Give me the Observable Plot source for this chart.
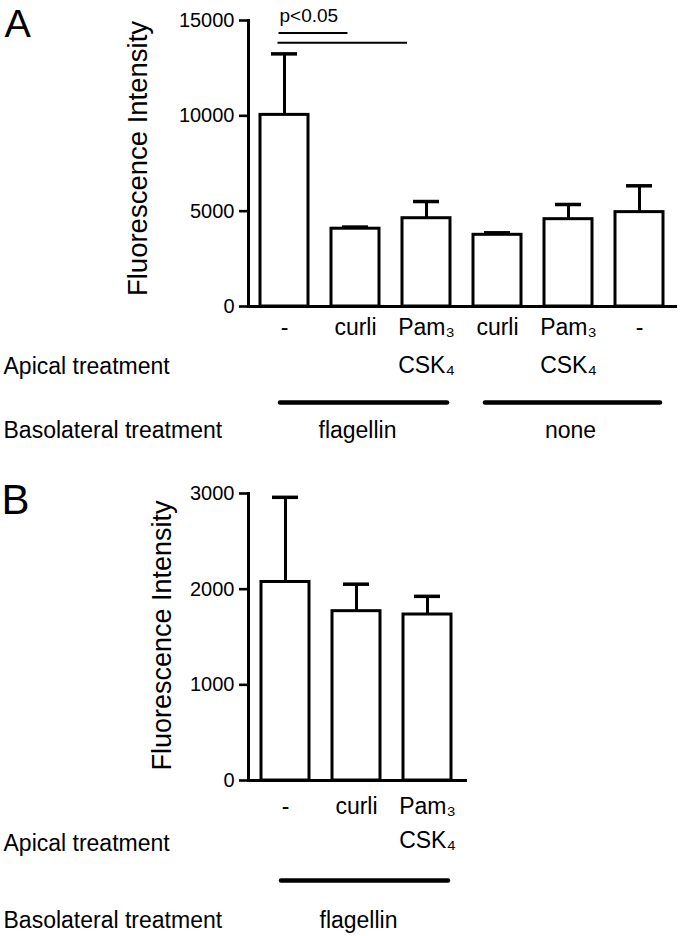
<!DOCTYPE html>
<html>
<head>
<meta charset="utf-8">
<script src="https://cdn.jsdelivr.net/npm/d3@7"></script>
<script src="https://cdn.jsdelivr.net/npm/@observablehq/plot@0.6"></script>
<style>
  body { margin: 0; background: #fff; }
  #chart { width: 680px; }
  #chart svg { display: block; }
</style>
</head>
<body>
<div id="chart"></div>
<script>
// ---------- Panel A data ----------
const apicalA = ["-", "curli", "Pam₃\nCSK₄", "curli", "Pam₃\nCSK₄", "-"];
const basolateralA = ["flagellin", "flagellin", "flagellin", "none", "none", "none"];
const meanA = [10050, 4080, 4630, 3760, 4580, 4950];
const errA = [3200, 85, 875, 105, 770, 1380];
const yTicksA = [0, 5000, 10000, 15000];
const yMaxA = 15000;
// significance brackets (bar index from/to, level in y units)
const sigFromA = [0, 0];
const sigToA = [1, 2];
const sigLevelA = [14350, 13830];
const sigLabelA = ["p<0.05", ""];

// ---------- Panel B data ----------
const apicalB = ["-", "curli", "Pam₃\nCSK₄"];
const basolateralB = ["flagellin", "flagellin", "flagellin"];
const meanB = [2075, 1770, 1735];
const errB = [885, 282, 190];
const yTicksB = [0, 1000, 2000, 3000];
const yMaxB = 3000;

const yTitle = "Fluorescence Intensity";
const apicalTitle = "Apical treatment";
const basoTitle = "Basolateral treatment";

const FONT = "'Liberation Sans', Arial, Helvetica, sans-serif";

function buildRows(apical, baso, mean, err) {
  return apical.map((a, i) => ({key: i, apical: a, baso: baso[i], mean: mean[i], err: err[i]}));
}
function buildGroups(rows) {
  const names = [...new Set(rows.map(d => d.baso))];
  return names.map(name => {
    const ks = rows.filter(d => d.baso === name).map(d => d.key);
    return {name, first: ks[0], mid: ks[Math.floor(ks.length / 2)], last: ks[ks.length - 1]};
  });
}

function panel(cfg) {
  const rows = buildRows(cfg.apical, cfg.baso, cfg.mean, cfg.err);
  const groups = buildGroups(rows);
  const marks = [
    Plot.barY(rows, {x: "key", y: "mean", fill: "white", stroke: "black", strokeWidth: 3}),
    Plot.ruleX(rows, {x: "key", y1: "mean", y2: d => d.mean + d.err, stroke: "black", strokeWidth: 3}),
    Plot.tickY(rows, {x: "key", y: d => d.mean + d.err, stroke: "black", strokeWidth: 3.5, insetLeft: 11, insetRight: 11}),
    Plot.ruleY([0], {stroke: "black", strokeWidth: 3, insetRight: cfg.axisExtend}),
    Plot.frame({anchor: "left", stroke: "black", strokeWidth: 3}),
    Plot.axisY({ticks: cfg.yTicks, tickSize: 9, tickPadding: 5, tickFormat: d => String(d),
                fontSize: 20, strokeWidth: 2.6, label: null}),
    // category labels (apical treatment)
    Plot.text(rows, {x: "key", text: "apical", frameAnchor: "bottom", lineAnchor: "top",
                     dy: cfg.catDy, fontSize: 23, lineHeight: cfg.catLH, fill: "black"}),
    // row titles
    Plot.text([apicalTitle], {frameAnchor: "bottom-left", textAnchor: "start", lineAnchor: "bottom",
                              dx: -245, dy: cfg.apicalDy, fontSize: 23, fill: "black"}),
    Plot.text([basoTitle], {frameAnchor: "bottom-left", textAnchor: "start", lineAnchor: "bottom",
                            dx: -245, dy: cfg.basoDy, fontSize: 23, fill: "black"}),
    // group lines and labels
    ...groups.map(g => Plot.ruleY([g], {x1: "first", x2: "last", y: () => 0, dy: cfg.lineDy,
                     stroke: "black", strokeWidth: 4.5, strokeLinecap: "round",
                     insetLeft: g.name === "flagellin" ? 20 : 12, insetRight: 3})),
    Plot.text(groups, {x: "mid", text: "name", frameAnchor: "bottom", lineAnchor: "bottom",
                       dy: cfg.basoDy, dx: 2, fontSize: 23, fill: "black"}),
    // y title
    Plot.text([yTitle], {frameAnchor: "left", rotate: -90, textAnchor: "middle", lineAnchor: "middle",
                         dx: cfg.titleDx, dy: cfg.titleDy, fontSize: cfg.titleFs, fill: "black"}),
    // panel letter
    Plot.text([cfg.letter], {frameAnchor: "top-left", textAnchor: "start", lineAnchor: "bottom",
                             dx: cfg.letterDx, dy: cfg.letterDy, fontSize: cfg.letterFs, fill: "black"})
  ];
  if (cfg.sig) {
    const sig = cfg.sig.from.map((f, i) => ({from: f, to: cfg.sig.to[i], level: cfg.sig.level[i], label: cfg.sig.label[i]}));
    sig.forEach((s, i) => {
      marks.push(Plot.ruleY([s], {x1: "from", x2: "to", y: "level", stroke: "black", strokeWidth: 2,
                                  insetLeft: cfg.sig.insetL[i], insetRight: cfg.sig.insetR[i]}));
    });
    marks.push(Plot.text(sig.filter(d => d.label), {x: "from", y: "level", text: "label", textAnchor: "start",
                          lineAnchor: "bottom", dx: -5, dy: -11, fontSize: 19, fill: "black"}));
  }
  return Plot.plot({
    width: 680,
    height: cfg.height,
    marginLeft: 248,
    marginRight: cfg.marginRight,
    marginTop: cfg.marginTop,
    marginBottom: cfg.marginBottom,
    style: {fontFamily: FONT, background: "white", color: "black", overflow: "visible"},
    x: {domain: rows.map(d => d.key), type: "band", paddingInner: 0.33, paddingOuter: cfg.padOuter, axis: null},
    y: {domain: [0, cfg.yMax], axis: null},
    marks
  });
}

const chart = document.getElementById("chart");
chart.appendChild(panel({
  letter: "A", apical: apicalA, baso: basolateralA, mean: meanA, err: errA,
  yTicks: yTicksA, yMax: yMaxA, height: 450, marginTop: 20, marginBottom: 144, marginRight: 5,
  padOuter: 0.144, axisExtend: -2,
  catDy: 2.7, catLH: 1.61, apicalDy: 67, lineDy: 96, basoDy: 131,
  titleDx: -110, titleDy: -5, titleFs: 27.5, letterDx: -244, letterDy: 16, letterFs: 39.5,
  sig: {from: sigFromA, to: sigToA, level: sigLevelA, label: sigLabelA, insetL: [18.5, 17.5], insetR: [31.5, 43]}
}));
chart.appendChild(panel({
  letter: "B", apical: apicalB, baso: basolateralB, mean: meanB, err: errB,
  yTicks: yTicksB, yMax: yMaxB, height: 486, marginTop: 43, marginBottom: 156, marginRight: 217,
  padOuter: 0.16, axisExtend: -4,
  catDy: 8.2, catLH: 1.52, apicalDy: 70, lineDy: 100, basoDy: 147,
  titleDx: -86, titleDy: -1.5, titleFs: 27, letterDx: -247, letterDy: 20, letterFs: 42
}));
</script>
</body>
</html>
